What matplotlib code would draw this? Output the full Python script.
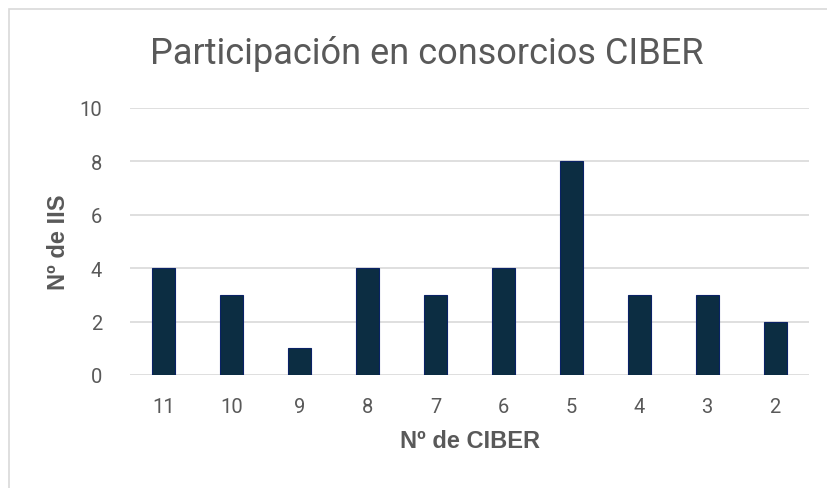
import numpy as np
import matplotlib.pyplot as plt
from matplotlib.patches import Rectangle

# datos
ciber = ["11", "10", "9", "8", "7", "6", "5", "4", "3", "2"]
n_iis = [4, 3, 1, 4, 3, 4, 8, 3, 3, 2]

plt.rcParams['font.family'] = ['Roboto', 'DejaVu Sans']
gris = '#595959'

fig = plt.figure(figsize=(8.27, 4.89), dpi=100)
ax = fig.add_axes([130/827, 1 - 376/489, 679/827, 267/489])

x = np.arange(len(ciber))
ax.bar(x, n_iis, width=0.34, color='#0C2D42', edgecolor='#0A2266', linewidth=0.8, zorder=3)

ax.set_xlim(-0.5, len(ciber) - 0.5)
ax.set_ylim(0, 10)
ax.set_yticks(range(0, 11, 2))
ax.set_xticks(x)
ax.set_xticklabels(ciber)
ax.grid(axis='y', color='#D9D9D9', linewidth=1.2, zorder=0)
for s in ax.spines.values():
    s.set_visible(False)
ax.tick_params(length=0, labelsize=14.5, labelcolor=gris)
ax.tick_params(axis='x', pad=16)
ax.tick_params(axis='y', pad=20)

etiq = dict(fontsize=17, fontweight='bold', color=gris, family=['Liberation Sans', 'DejaVu Sans'])
ax.set_xlabel('Nº de CIBER', labelpad=9, **etiq)
ax.set_ylabel('Nº de IIS', labelpad=7, **etiq)
fig.text(427/827, 1 - 54/489, 'Participación en consorcios CIBER', fontsize=26,
         color=gris, ha='center', va='center')

# marco del gráfico
fig.patches.append(Rectangle((9/827, -0.1), 1.0, 1 - 10/489 + 0.1, transform=fig.transFigure,
                             fill=False, edgecolor='#D9D9D9', linewidth=1.2))

fig.savefig('out.png', dpi=100)
